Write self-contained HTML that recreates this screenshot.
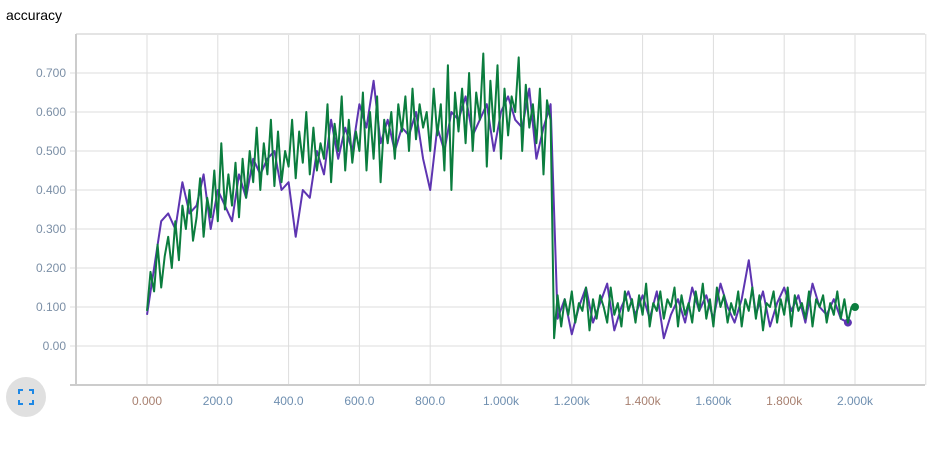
<!DOCTYPE html>
<html><head><meta charset="utf-8">
<style>
body{margin:0;background:#fff;width:941px;height:446px;overflow:hidden;font-family:"Liberation Sans",sans-serif;}
</style></head>
<body>
<svg id="chart" width="941" height="446" xmlns="http://www.w3.org/2000/svg">
<text x="6" y="20" font-size="14" fill="#000">accuracy</text>
<g id="grid"></g>
<g id="axes"></g>
<g id="series"></g>
<g>
<circle cx="26" cy="397" r="20" fill="#e0e0e0"/>
<path d="M19 394v-4h4 M29 390h4v4 M33 400v4h-4 M23 404h-4v-4" stroke="#1e88e5" stroke-width="2" fill="none"/>
</g>
</svg>
<script>
const xTicks=[0,200,400,600,800,1000,1200,1400,1600,1800,2000];
const xTickLabels=["0.000","200.0","400.0","600.0","800.0","1.000k","1.200k","1.400k","1.600k","1.800k","2.000k"];
const yTicks=[0,0.1,0.2,0.3,0.4,0.5,0.6,0.7];
const yTickLabels=["0.00","0.100","0.200","0.300","0.400","0.500","0.600","0.700"];
const greenValues=[.09,.19,.14,.26,.15,.23,.28,.20,.32,.22,
.36,.30,.40,.27,.33,.43,.28,.38,.33,.45,
.32,.52,.35,.44,.36,.47,.33,.48,.38,.50,
.42,.56,.40,.52,.44,.58,.41,.55,.42,.50,
.46,.58,.43,.55,.47,.60,.44,.56,.45,.52,
.48,.62,.42,.57,.50,.64,.45,.58,.47,.55,
.50,.65,.45,.60,.48,.64,.42,.58,.52,.60,
.48,.62,.55,.64,.50,.66,.53,.62,.56,.60,
.50,.66,.54,.62,.45,.72,.40,.65,.55,.66,
.52,.70,.50,.65,.58,.75,.46,.68,.55,.72,
.48,.66,.54,.64,.60,.74,.50,.67,.56,.62,
.52,.66,.44,.63,.58,.02,
.13,.05,.12,.08,.14,.06,.11,.09,.15,.04,
.12,.07,.13,.10,.06,.15,.08,.11,.05,.14,
.09,.12,.06,.13,.08,.16,.05,.11,.09,.14,
.07,.12,.10,.15,.05,.13,.08,.11,.06,.14,
.09,.16,.07,.12,.05,.15,.10,.13,.06,.11,
.08,.14,.05,.12,.09,.15,.07,.13,.04,.11,
.10,.14,.06,.12,.08,.15,.05,.13,.09,.11,
.07,.14,.05,.12,.10,.13,.06,.11,.08,.14,
.07,.12,.06,.10,.10];
const greenStepSize=10;
const purpleValues=[.08,.20,.32,.34,.30,.42,.34,.36,.44,.30,
.40,.36,.32,.44,.38,.48,.44,.48,.50,.40,
.42,.28,.40,.38,.50,.44,.58,.48,.56,.50,
.62,.56,.68,.52,.58,.50,.56,.54,.60,.48,
.40,.56,.50,.60,.58,.64,.54,.58,.62,.50,
.60,.64,.58,.56,.66,.48,.56,.62,
.07,.12,.03,.10,.15,.06,.11,.16,.04,.10,.14,.08,.13,.07,.14,.02,.08,.12,.06,.15,.09,.13,.07,.16,.10,.06,.12,.22,.08,.14,.05,.11,.15,.09,.13,.06,.16,.10,.08,.12,.07,.06];
const purpleStepSize=20;

const NS="http://www.w3.org/2000/svg";
const X=s=>147+s*(708/2000);
const Y=v=>346-v*390;
function mk(tag,attrs,parent){const e=document.createElementNS(NS,tag);for(const k in attrs)e.setAttribute(k,attrs[k]);parent.appendChild(e);return e;}
const grid=document.getElementById('grid'),axes=document.getElementById('axes'),series=document.getElementById('series');
// vertical grid
for(let s=-200;s<=2200;s+=200){const l=mk('line',{x1:X(s),x2:X(s),y1:34,y2:385,stroke:'#ddd','stroke-width':1},grid);

}
mk('line',{x1:76,x2:925,y1:34,y2:34,stroke:'#e4e4e4','stroke-width':2},grid);
yTicks.forEach((v,i)=>{
const l=mk('line',{x1:70,x2:925,y1:Y(v),y2:Y(v),stroke:'#ddd','stroke-width':1},grid);


const t=mk('text',{x:66,y:Y(v)+4,'text-anchor':'end','font-size':12,fill:'#7b8fa6'},axes);
t.textContent=yTickLabels[i];


});
mk('line',{x1:76,x2:76,y1:34,y2:386,stroke:'#ccc','stroke-width':2},axes);
mk('line',{x1:70,x2:925,y1:385,y2:385,stroke:'#ccc','stroke-width':2},axes);
xTicks.forEach((s,i)=>{
const t=mk('text',{x:X(s),y:405,'text-anchor':'middle','font-size':12,fill:(i==0||i==7||i==9)?'#a88070':'#6f8fb0'},axes);
t.textContent=xTickLabels[i];


});
function draw(vals,step,color,name){
const d=vals.map((v,i)=>(i?'L':'M')+X(i*step).toFixed(1)+' '+Y(v).toFixed(1)).join(' ');
const p=mk('path',{d:d,fill:'none',stroke:color,'stroke-width':2,'stroke-linejoin':'round'},series);


const n=vals.length-1;
const c=mk('circle',{cx:X(n*step),cy:Y(vals[n]),r:4,fill:color},series);


}
draw(purpleValues,purpleStepSize,'#5e35b1','purple-series');
draw(greenValues,greenStepSize,'#0b7d3e','green-series');
</script>
</body></html>
